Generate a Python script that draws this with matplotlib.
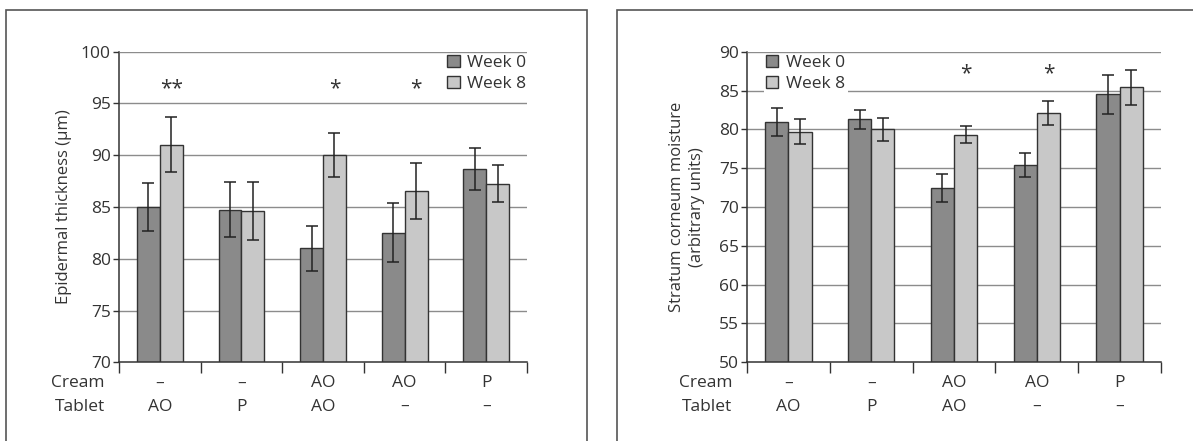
import matplotlib.pyplot as plt
from matplotlib.patches import Rectangle
import numpy as np

plt.rcParams['font.family'] = ['Open Sans', 'DejaVu Sans']

cream = ['–', '–', 'AO', 'AO', 'P']
tablet = ['AO', 'P', 'AO', '–', '–']

# epidermal thickness (µm), mean and SD
thick_w0 = [85.0, 84.75, 81.0, 82.5, 88.65]
thick_w0_sd = [2.35, 2.65, 2.2, 2.85, 2.0]
thick_w8 = [91.0, 84.6, 90.0, 86.55, 87.25]
thick_w8_sd = [2.65, 2.8, 2.15, 2.7, 1.8]
thick_stars = ['**', '', '*', '*', '']

# stratum corneum moisture (arbitrary units)
moist_w0 = [80.9, 81.3, 72.4, 75.4, 84.5]
moist_w0_sd = [1.8, 1.25, 1.8, 1.6, 2.5]
moist_w8 = [79.7, 80.0, 79.3, 82.1, 85.4]
moist_w8_sd = [1.6, 1.5, 1.1, 1.5, 2.3]
moist_stars = ['', '', '*', '*', '']

TXT = '#333333'
DARK = '#8a8a8a'
LIGHT = '#c8c8c8'
W = 0.28
FS = 12.5


def panel(ax, w0, w0_sd, w8, w8_sd, stars, ylim, ystep, star_y, ylabel, lpad,
          leg_loc, leg_anchor):
    x = np.arange(len(w0))
    yt = np.arange(ylim[0], ylim[1] + 0.1, ystep)
    # top gridline sits above the legend box, the rest below it
    ax.hlines(yt[1:-1], -0.5, len(w0) - 0.5, color='#8c8c8c', lw=1, zorder=0.5)
    ax.hlines(yt[-1], -0.5, len(w0) - 0.5, color='#8c8c8c', lw=1, zorder=6)
    err = dict(ecolor='#222222', elinewidth=1.1, capsize=4.5, capthick=1.1)
    ax.bar(x - W / 2, w0, W, yerr=w0_sd, color=DARK, edgecolor='#333333',
           lw=1, error_kw=err, label='Week 0', zorder=2)
    ax.bar(x + W / 2, w8, W, yerr=w8_sd, color=LIGHT, edgecolor='#333333',
           lw=1, error_kw=err, label='Week 8', zorder=2)
    for i, s in enumerate(stars):
        if s:
            ax.text(x[i] + W / 2, star_y, s, ha='center', va='center',
                    fontsize=15, color=TXT)
    ax.set_xlim(-0.5, len(w0) - 0.5)
    ax.set_ylim(*ylim)
    ax.set_yticks(yt)
    ax.set_xticks(np.arange(-0.5, len(w0), 1.0))
    ax.set_xticklabels([])
    ax.tick_params(axis='x', length=8, width=1, color='#333333', direction='out')
    ax.tick_params(axis='y', length=4, width=1, color='#333333', labelsize=FS,
                   labelcolor=TXT, pad=2)
    for sp in ['top', 'right']:
        ax.spines[sp].set_visible(False)
    for sp in ['left', 'bottom']:
        ax.spines[sp].set_color('#333333')
        ax.spines[sp].set_linewidth(1.1)
    ax.set_ylabel(ylabel, fontsize=12, color=TXT, labelpad=lpad, linespacing=1.35)

    # treatment rows under the axis
    tr = ax.get_xaxis_transform()
    for i in range(len(w0)):
        ax.text(x[i], -0.068, cream[i], ha='center', va='center', fontsize=FS,
                color=TXT, transform=tr)
        ax.text(x[i], -0.145, tablet[i], ha='center', va='center', fontsize=FS,
                color=TXT, transform=tr)
    ax.text(-0.035, -0.068, 'Cream', ha='right', va='center', fontsize=FS,
            color=TXT, transform=ax.transAxes)
    ax.text(-0.035, -0.145, 'Tablet', ha='right', va='center', fontsize=FS,
            color=TXT, transform=ax.transAxes)

    leg = ax.legend(loc=leg_loc, bbox_to_anchor=leg_anchor, fontsize=FS,
                    handlelength=0.7, handleheight=0.7, handletextpad=0.45,
                    labelspacing=0.3, borderpad=0.15, borderaxespad=0,
                    frameon=True, fancybox=False)
    leg.get_frame().set_facecolor('white')
    leg.get_frame().set_edgecolor('none')
    leg.get_frame().set_alpha(1)
    for t in leg.get_texts():
        t.set_color(TXT)
    for h in leg.legend_handles:
        h.set_edgecolor('#333333')


fig = plt.figure(figsize=(11.93, 4.41), dpi=100)

# panel frames
fig.patches.append(Rectangle((6 / 1193, -0.05), 581 / 1193, 1.05 - 10 / 441,
                             transform=fig.transFigure, fill=False,
                             edgecolor='#555555', lw=1.2))
fig.patches.append(Rectangle((617 / 1193, -0.05), 0.6, 1.05 - 10 / 441,
                             transform=fig.transFigure, fill=False,
                             edgecolor='#555555', lw=1.2))

ax1 = fig.add_axes([0.0998, 0.1785, 0.3420, 0.7043])
ax2 = fig.add_axes([0.6262, 0.1785, 0.3470, 0.7043])

panel(ax1, thick_w0, thick_w0_sd, thick_w8, thick_w8_sd, thick_stars,
      (70, 100), 5, 96.4, 'Epidermal thickness (µm)', 6, 'upper right', (1.005, 0.998))
panel(ax2, moist_w0, moist_w0_sd, moist_w8, moist_w8_sd, moist_stars,
      (50, 90), 5, 87.2, 'Stratum corneum moisture\n(arbitrary units)', 10,
      'upper left', (0.04, 0.998))

fig.savefig('out.png', dpi=100)
